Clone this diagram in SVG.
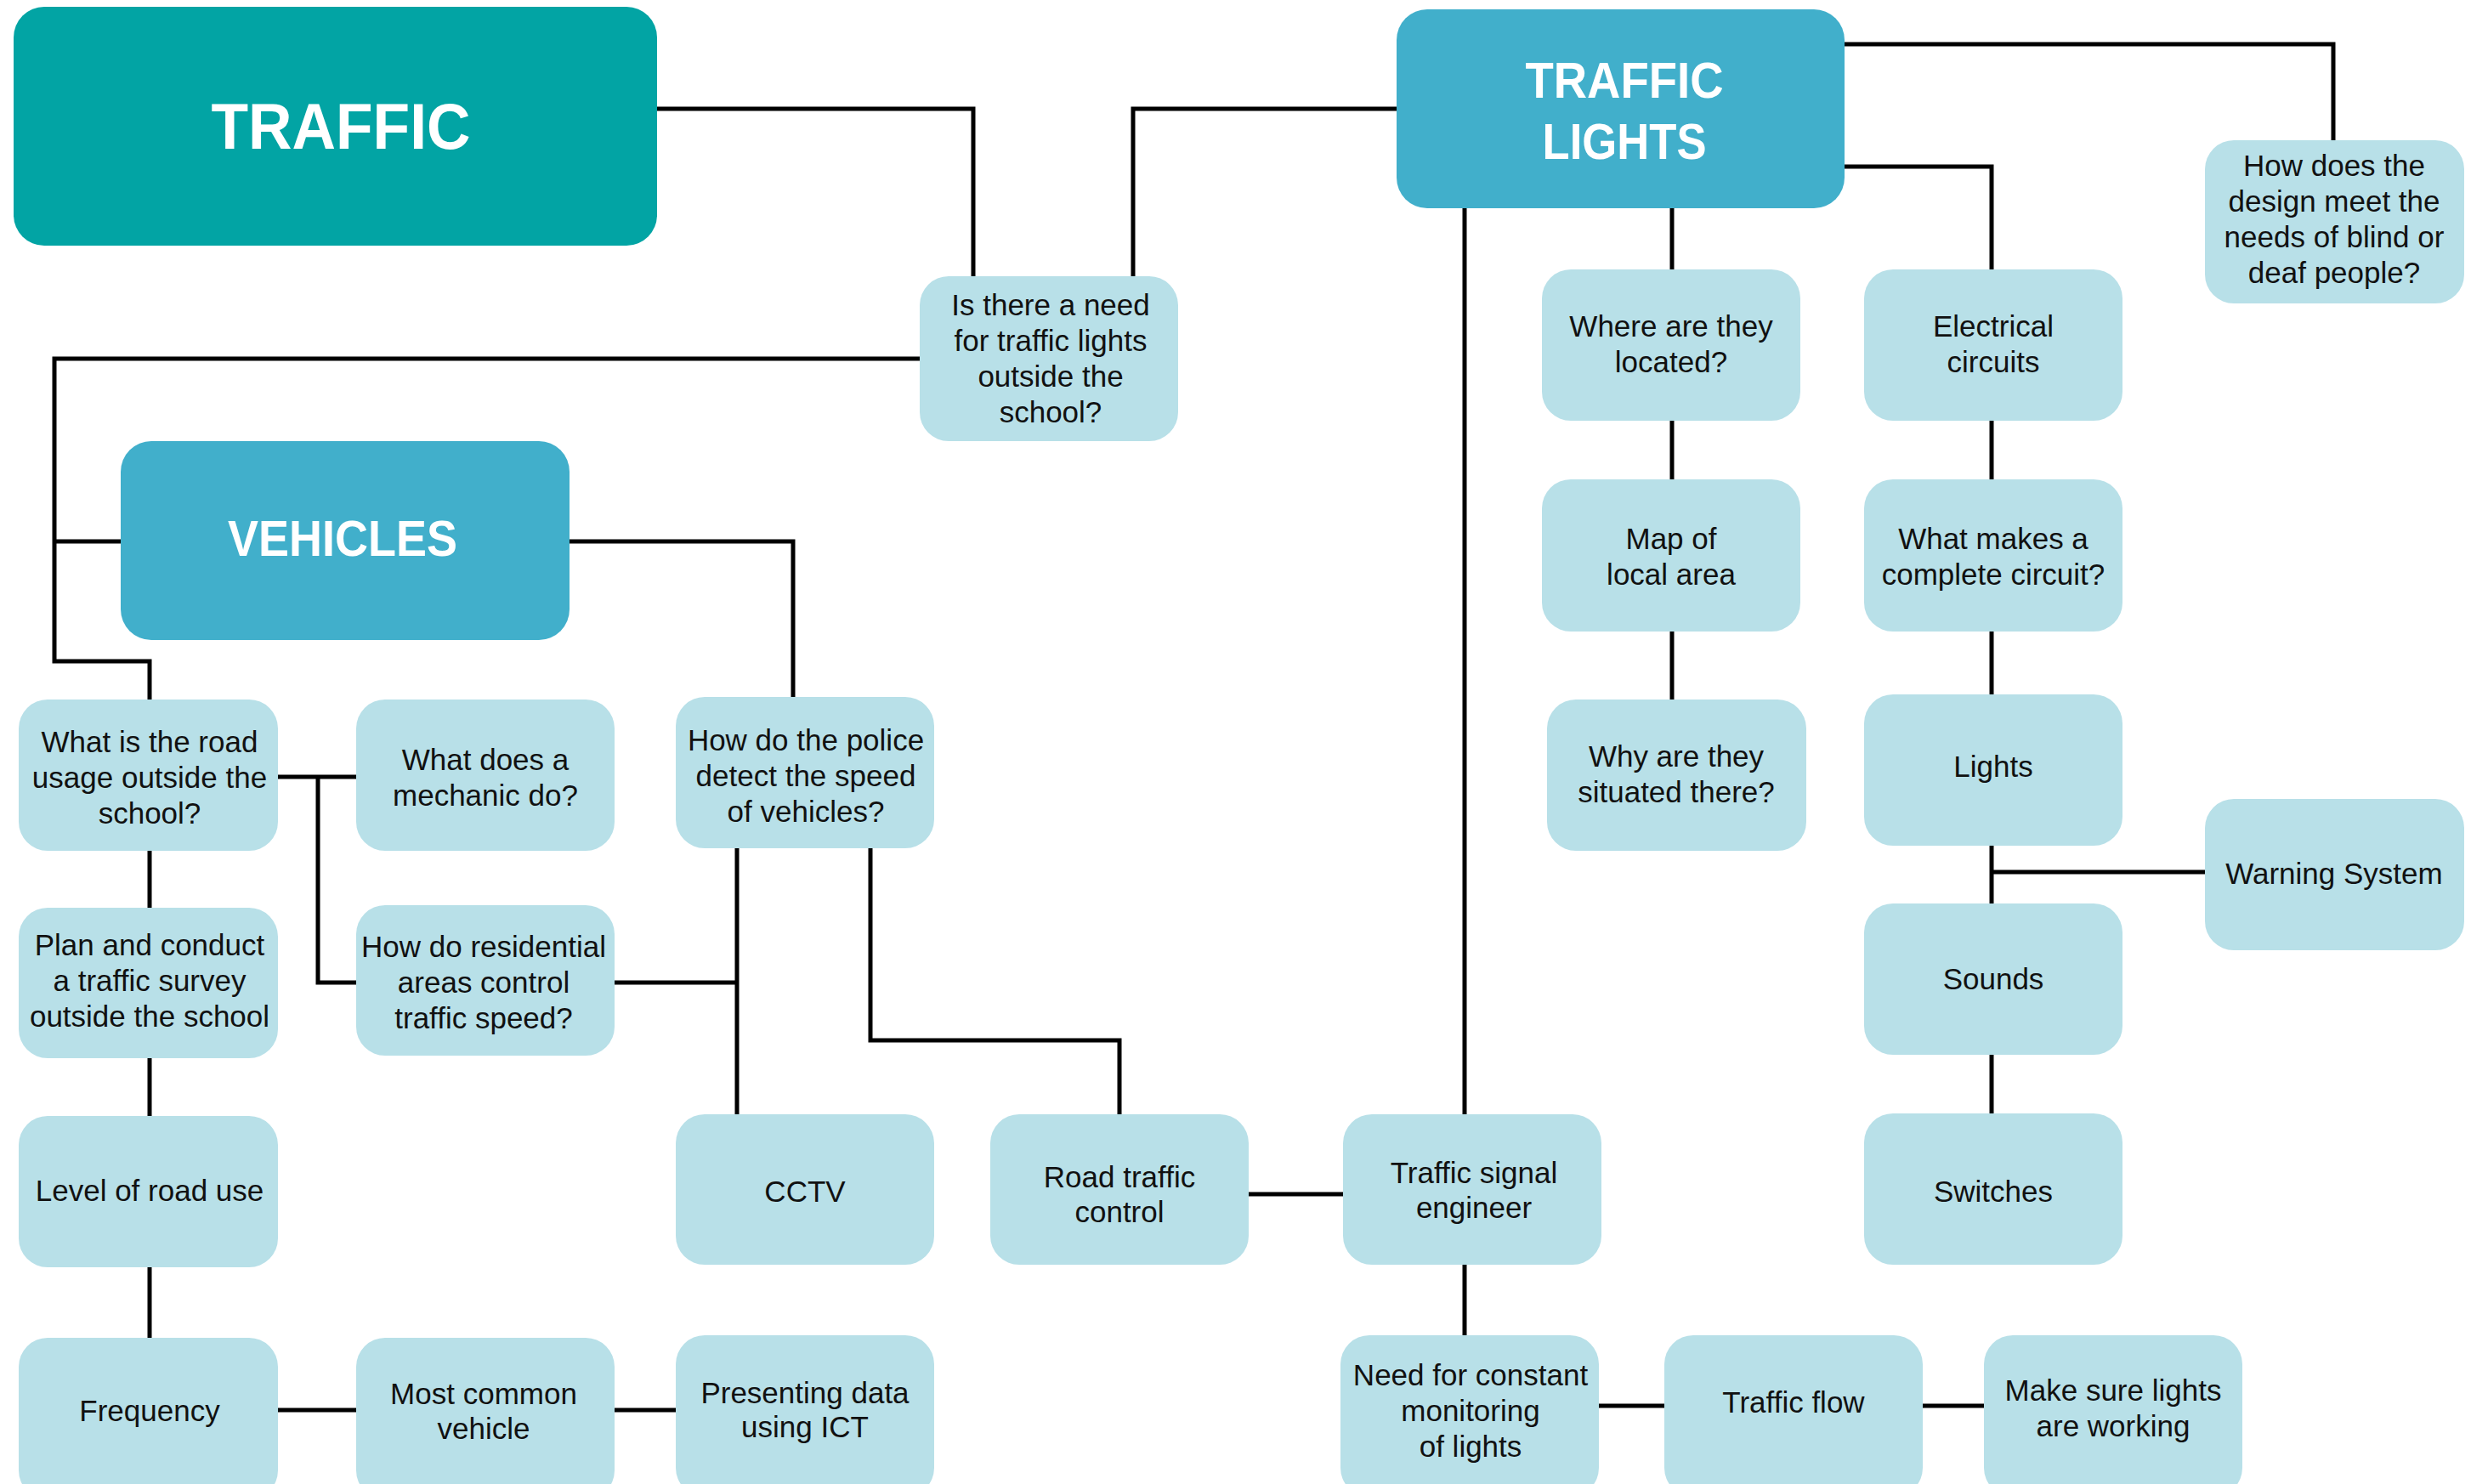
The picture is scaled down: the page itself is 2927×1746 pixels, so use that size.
<svg xmlns="http://www.w3.org/2000/svg" width="2927" height="1746" viewBox="0 0 2927 1746">
<style>
.bg{fill:#ffffff}
.n{fill:#b8e0e8}
.hd{fill:#41afcb}
.top{fill:#02a4a4}
.t{font-family:"Liberation Sans",Arial,sans-serif;font-size:35px;fill:#111111;text-anchor:middle}
.h{font-family:"Liberation Sans",Arial,sans-serif;font-weight:bold;fill:#ffffff;text-anchor:middle}
.c{fill:none;stroke:#000000;stroke-width:5;stroke-linejoin:miter}
</style>
<rect class="bg" x="0" y="0" width="2927" height="1746"/>
<g id="connectors">
<path class="c" d="M773,128 H1145 V325"/>
<path class="c" d="M1643,128 H1333 V325"/>
<path class="c" d="M1082,422 H64 V778 H176 V823"/>
<path class="c" d="M64,637 H142"/>
<path class="c" d="M670,637 H933 V820"/>
<path class="c" d="M176,1001 V1068"/>
<path class="c" d="M176,1245 V1313"/>
<path class="c" d="M176,1491 V1574"/>
<path class="c" d="M327,1659 H419"/>
<path class="c" d="M723,1659 H795"/>
<path class="c" d="M327,914 H419"/>
<path class="c" d="M374,914 V1156 H419"/>
<path class="c" d="M723,1156 H867"/>
<path class="c" d="M867,998 V1311"/>
<path class="c" d="M1024,998 V1224 H1317 V1311"/>
<path class="c" d="M1469,1405 H1580"/>
<path class="c" d="M1723,245 V1311"/>
<path class="c" d="M1723,1488 V1571"/>
<path class="c" d="M1881,1654 H1958"/>
<path class="c" d="M2262,1654 H2334"/>
<path class="c" d="M1967,245 V317"/>
<path class="c" d="M1967,495 V564"/>
<path class="c" d="M1967,743 V823"/>
<path class="c" d="M2170,196 H2343 V317"/>
<path class="c" d="M2343,495 V564"/>
<path class="c" d="M2343,743 V817"/>
<path class="c" d="M2343,995 V1063"/>
<path class="c" d="M2343,1026 H2594"/>
<path class="c" d="M2343,1241 V1310"/>
<path class="c" d="M2170,52 H2745 V165"/>
</g>
<g id="traffic"><rect class="top" x="16" y="8" width="757" height="281" rx="36"/>
<text class="h" x="401" y="175" font-size="76" textLength="305" lengthAdjust="spacingAndGlyphs">TRAFFIC</text></g>
<g id="vehicles"><rect class="hd" x="142" y="519" width="528" height="234" rx="36"/>
<text class="h" x="403" y="654" font-size="60" textLength="270" lengthAdjust="spacingAndGlyphs">VEHICLES</text></g>
<g id="traffic-lights"><rect class="hd" x="1643" y="11" width="527" height="234" rx="36"/>
<text class="h" x="1911" y="115" font-size="60" textLength="233" lengthAdjust="spacingAndGlyphs">TRAFFIC</text>
<text class="h" x="1911" y="187" font-size="60" textLength="193" lengthAdjust="spacingAndGlyphs">LIGHTS</text></g>
<g id="need-lights"><rect class="n" x="1082" y="325" width="304" height="194" rx="34"/>
<text class="t" x="1236" y="371">Is there a need</text><text class="t" x="1236" y="413">for traffic lights</text><text class="t" x="1236" y="455">outside the</text><text class="t" x="1236" y="497">school?</text></g>
<g id="design"><rect class="n" x="2594" y="165" width="305" height="192" rx="34"/>
<text class="t" x="2746" y="207">How does the</text><text class="t" x="2746" y="249">design meet the</text><text class="t" x="2746" y="291">needs of blind or</text><text class="t" x="2746" y="333">deaf people?</text></g>
<g id="where"><rect class="n" x="1814" y="317" width="304" height="178" rx="34"/>
<text class="t" x="1966" y="396">Where are they</text><text class="t" x="1966" y="438">located?</text></g>
<g id="electrical"><rect class="n" x="2193" y="317" width="304" height="178" rx="34"/>
<text class="t" x="2345" y="396">Electrical</text><text class="t" x="2345" y="438">circuits</text></g>
<g id="map"><rect class="n" x="1814" y="564" width="304" height="179" rx="34"/>
<text class="t" x="1966" y="646">Map of</text><text class="t" x="1966" y="688">local area</text></g>
<g id="complete"><rect class="n" x="2193" y="564" width="304" height="179" rx="34"/>
<text class="t" x="2345" y="646">What makes a</text><text class="t" x="2345" y="688">complete circuit?</text></g>
<g id="why"><rect class="n" x="1820" y="823" width="305" height="178" rx="34"/>
<text class="t" x="1972" y="902">Why are they</text><text class="t" x="1972" y="944">situated there?</text></g>
<g id="lights"><rect class="n" x="2193" y="817" width="304" height="178" rx="34"/>
<text class="t" x="2345" y="914">Lights</text></g>
<g id="warning"><rect class="n" x="2594" y="940" width="305" height="178" rx="34"/>
<text class="t" x="2746" y="1040">Warning System</text></g>
<g id="sounds"><rect class="n" x="2193" y="1063" width="304" height="178" rx="34"/>
<text class="t" x="2345" y="1164">Sounds</text></g>
<g id="switches"><rect class="n" x="2193" y="1310" width="304" height="178" rx="34"/>
<text class="t" x="2345" y="1414">Switches</text></g>
<g id="road-usage"><rect class="n" x="22" y="823" width="305" height="178" rx="34"/>
<text class="t" x="176" y="885">What is the road</text><text class="t" x="176" y="927">usage outside the</text><text class="t" x="176" y="969">school?</text></g>
<g id="mechanic"><rect class="n" x="419" y="823" width="304" height="178" rx="34"/>
<text class="t" x="571" y="906">What does a</text><text class="t" x="571" y="948">mechanic do?</text></g>
<g id="police"><rect class="n" x="795" y="820" width="304" height="178" rx="34"/>
<text class="t" x="948" y="883">How do the police</text><text class="t" x="948" y="925">detect the speed</text><text class="t" x="948" y="967">of vehicles?</text></g>
<g id="survey"><rect class="n" x="22" y="1068" width="305" height="177" rx="34"/>
<text class="t" x="176" y="1124">Plan and conduct</text><text class="t" x="176" y="1166">a traffic survey</text><text class="t" x="176" y="1208">outside the school</text></g>
<g id="residential"><rect class="n" x="419" y="1065" width="304" height="177" rx="34"/>
<text class="t" x="569" y="1126">How do residential</text><text class="t" x="569" y="1168">areas control</text><text class="t" x="569" y="1210">traffic speed?</text></g>
<g id="level"><rect class="n" x="22" y="1313" width="305" height="178" rx="34"/>
<text class="t" x="176" y="1413">Level of road use</text></g>
<g id="cctv"><rect class="n" x="795" y="1311" width="304" height="177" rx="34"/>
<text class="t" x="947" y="1414">CCTV</text></g>
<g id="road-control"><rect class="n" x="1165" y="1311" width="304" height="177" rx="34"/>
<text class="t" x="1317" y="1397">Road traffic</text><text class="t" x="1317" y="1438">control</text></g>
<g id="engineer"><rect class="n" x="1580" y="1311" width="304" height="177" rx="34"/>
<text class="t" x="1734" y="1392">Traffic signal</text><text class="t" x="1734" y="1433">engineer</text></g>
<g id="frequency"><rect class="n" x="22" y="1574" width="305" height="190" rx="34"/>
<text class="t" x="176" y="1672">Frequency</text></g>
<g id="common"><rect class="n" x="419" y="1574" width="304" height="190" rx="34"/>
<text class="t" x="569" y="1652">Most common</text><text class="t" x="569" y="1693">vehicle</text></g>
<g id="presenting"><rect class="n" x="795" y="1571" width="304" height="190" rx="34"/>
<text class="t" x="947" y="1651">Presenting data</text><text class="t" x="947" y="1691">using ICT</text></g>
<g id="monitoring"><rect class="n" x="1577" y="1571" width="304" height="190" rx="34"/>
<text class="t" x="1730" y="1630">Need for constant</text><text class="t" x="1730" y="1672">monitoring</text><text class="t" x="1730" y="1714">of lights</text></g>
<g id="flow"><rect class="n" x="1958" y="1571" width="304" height="190" rx="34"/>
<text class="t" x="2110" y="1662">Traffic flow</text></g>
<g id="make-sure"><rect class="n" x="2334" y="1571" width="304" height="190" rx="34"/>
<text class="t" x="2486" y="1648">Make sure lights</text><text class="t" x="2486" y="1690">are working</text></g>
</svg>
